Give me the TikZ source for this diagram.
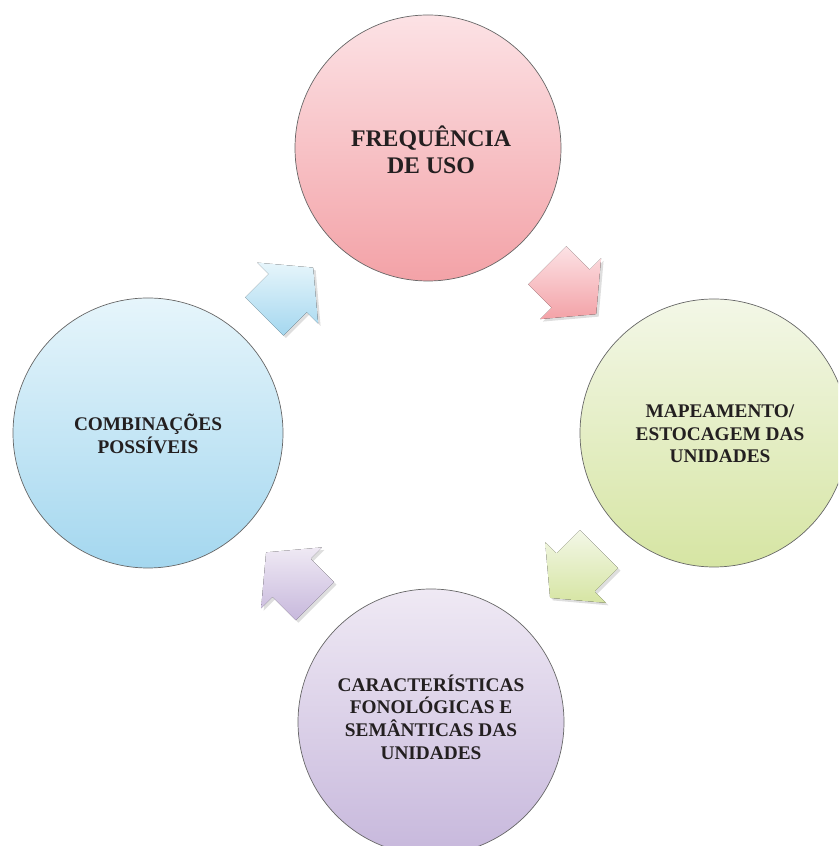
\documentclass[tikz,border=0pt]{standalone}
\usepackage{fontspec}
\setmainfont{Liberation Serif}
\usetikzlibrary{calc}
\definecolor{pinkT}{RGB}{252,226,229}
\definecolor{pinkB}{RGB}{243,162,167}
\definecolor{greenT}{RGB}{243,247,231}
\definecolor{greenB}{RGB}{214,229,163}
\definecolor{purT}{RGB}{239,233,244}
\definecolor{purB}{RGB}{199,184,220}
\definecolor{bluT}{RGB}{230,245,251}
\definecolor{bluB}{RGB}{164,215,239}
\definecolor{txt}{RGB}{35,31,32}
\newcommand{\cyclearrow}[6]{%
  \coordinate (#1) at (#2,#3);
  \fill[black,opacity=0.13]
    ($(#1)+(2.5pt,-2.5pt)+(#4:-34.5pt)+(#4+90:-27pt)$) --
    ($(#1)+(2.5pt,-2.5pt)+(#4:-1.5pt)+(#4+90:-27pt)$) --
    ($(#1)+(2.5pt,-2.5pt)+(#4:-1.5pt)+(#4+90:-43pt)$) --
    ($(#1)+(2.5pt,-2.5pt)+(#4:34.5pt)$) --
    ($(#1)+(2.5pt,-2.5pt)+(#4:-1.5pt)+(#4+90:43pt)$) --
    ($(#1)+(2.5pt,-2.5pt)+(#4:-1.5pt)+(#4+90:27pt)$) --
    ($(#1)+(2.5pt,-2.5pt)+(#4:-34.5pt)+(#4+90:27pt)$) -- cycle;
  \fill[top color=#5, bottom color=#6]
    ($(#1)+(#4:-34.5pt)+(#4+90:-27pt)$) --
    ($(#1)+(#4:-1.5pt)+(#4+90:-27pt)$) --
    ($(#1)+(#4:-1.5pt)+(#4+90:-43pt)$) --
    ($(#1)+(#4:34.5pt)$) --
    ($(#1)+(#4:-1.5pt)+(#4+90:43pt)$) --
    ($(#1)+(#4:-1.5pt)+(#4+90:27pt)$) --
    ($(#1)+(#4:-34.5pt)+(#4+90:27pt)$) -- cycle;
}
\begin{document}
\begin{tikzpicture}[x=1pt,y=1pt,
  bubble/.style={circle, draw=black!60, line width=0.7pt, inner sep=0pt},
  lbl/.style={align=center, text=txt, inner sep=0pt},
  small/.style={font=\fontsize{19.3}{22.7}\selectfont\bfseries},
  big/.style={font=\fontsize{23.8}{26.5}\selectfont\bfseries}]
\useasboundingbox (0,0) rectangle (838,846);
\clip (0,0) rectangle (838,846);
% circles
\node[bubble, minimum size=266pt, top color=pinkT, bottom color=pinkB] (cfreq) at (428,698) {};
\node[bubble, minimum size=268pt, top color=greenT, bottom color=greenB] (cmap) at (714,413) {};
\node[bubble, minimum size=266pt, top color=purT, bottom color=purB] (ccar) at (431,124) {};
\node[bubble, minimum size=270pt, top color=bluT, bottom color=bluB] (ccomb) at (148,413) {};
% labels
\node[lbl, big] (tfreq) at (431,696) {FREQUÊNCIA\\DE USO};
\node[lbl, small] (tmap) at (720,412) {MAPEAMENTO/\\ESTOCAGEM DAS\\UNIDADES};
\node[lbl, small] (tcar) at (431,129) {CARACTERÍSTICAS\\FONOLÓGICAS E\\SEMÂNTICAS DAS\\UNIDADES};
\node[lbl, small] (tcomb) at (148,412) {COMBINAÇÕES\\POSSÍVEIS};
% arrows
\cyclearrow{aone}{571.75}{556.25}{-45}{pinkT}{pinkB}
\cyclearrow{atwo}{574.5}{272.5}{225}{greenT}{greenB}
\cyclearrow{athree}{290.5}{269.25}{135}{purT}{purB}
\cyclearrow{afour}{288.75}{554}{45}{bluT}{bluB}
\end{tikzpicture}
\end{document}
